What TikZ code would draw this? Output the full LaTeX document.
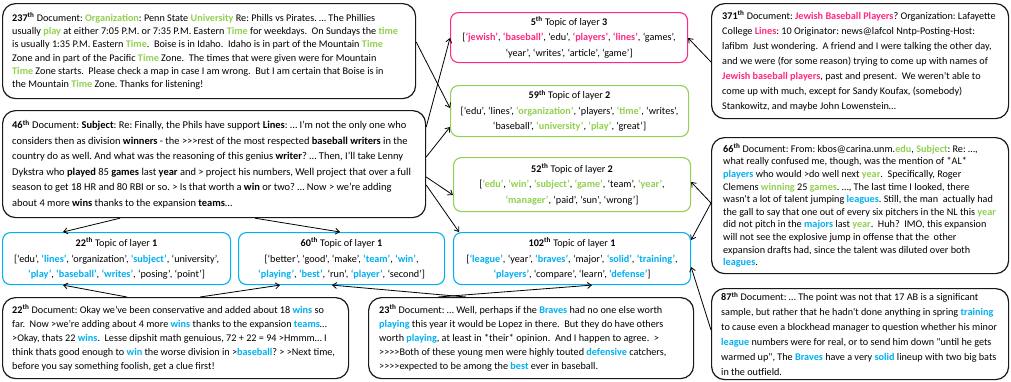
\documentclass[tikz,border=0pt]{standalone}
\usepackage{fontspec}
\setmainfont{Carlito}[Ligatures=TeXOff]
\usetikzlibrary{arrows.meta,calc}
\definecolor{tgreen}{RGB}{146,208,80}
\definecolor{tblue}{RGB}{0,176,240}
\definecolor{tpink}{RGB}{255,40,130}
\newcommand\grn[1]{\textcolor{tgreen}{\textbf{#1}}}
\newcommand\blu[1]{\textcolor{tblue}{\textbf{#1}}}
\newcommand\pnk[1]{\textcolor{tpink}{\textbf{#1}}}
\newcommand\ordth[1]{\textbf{#1\textsuperscript{th}}}
\newcommand\sz[1]{\fontsize{10.2}{#1}\selectfont}
\frenchspacing
\begin{document}
\begin{tikzpicture}[x=1pt,y=-1pt,
  docbox/.style={draw=black!90, line width=1.2pt, rounded corners=13pt, anchor=north west, inner sep=0pt},
  doctext/.style={anchor=west, align=left, inner sep=0pt},
  topicbox/.style={line width=1.1pt, rounded corners=8pt, align=center, inner sep=0pt, anchor=north west, font=\sz{15.5}},
  link/.style={line width=0.8pt, -{Straight Barb[length=4pt,width=6pt]}}]
\fill[white] (0,0) rectangle (1011,381);
\useasboundingbox (0,0) rectangle (1011,381);

% document boxes
\node[docbox, minimum width=413pt, minimum height=95pt]  (d237) at (2,3) {};
\node[docbox, minimum width=423pt, minimum height=107pt] (d46)  at (2,110) {};
\node[docbox, minimum width=346pt, minimum height=81pt]  (d22)  at (2,297) {};
\node[docbox, minimum width=325pt, minimum height=81pt]  (d23)  at (368,297) {};
\node[docbox, minimum width=297pt, minimum height=115pt] (d371) at (711,3) {};
\node[docbox, minimum width=297pt, minimum height=136pt] (d66)  at (711,137) {};
\node[docbox, minimum width=297pt, minimum height=91pt]  (d87)  at (711,288) {};

% document texts
\node[doctext, font=\sz{13.2}] (d237t) at ($(d237.west)+(10,0)$) {%
\ordth{237} Document: \grn{Organization}: Penn State \grn{University} Re: Phills vs Pirates. … The Phillies\\
usually \grn{play} at either 7:05 P.M. or 7:35 P.M. Eastern \grn{Time} for weekdays.\ \ On Sundays the \grn{time}\\
is usually 1:35 P.M. Eastern \grn{Time}.\ \ Boise is in Idaho.\ \ Idaho is in part of the Mountain \grn{Time}\\
Zone and in part of the Pacific \grn{Time} Zone.\ \ The times that were given were for Mountain\\
\grn{Time} Zone starts.\ \ Please check a map in case I am wrong.\ \ But I am certain that Boise is in\\
the Mountain \grn{Time} Zone. Thanks for listening!};

\node[doctext, font=\fontsize{10.45}{15.5}\selectfont] (d46t) at ($(d46.west)+(10,0)$) {%
\ordth{46} Document: \textbf{Subject}: Re: Finally, the Phils have support \textbf{Lines}: … I’m not the only one who\\
considers then as division \textbf{winners} - the >>>rest of the most respected \textbf{baseball writers} in the\\
country do as well. And what was the reasoning of this genius \textbf{writer}? … Then, I’ll take Lenny\\
Dykstra who \textbf{played} 85 \textbf{games} last \textbf{year} and > project his numbers, Well project that over a full\\
season to get 18 HR and 80 RBI or so. > Is that worth a \textbf{win} or two? … Now > we’re adding\\
about 4 more \textbf{wins} thanks to the expansion \textbf{teams}…};

\node[doctext, font=\sz{14.2}] (d22t) at ($(d22.west)+(10,0)$) {%
\ordth{22} Document: Okay we’ve been conservative and added about 18 \blu{wins} so\\
far.\ \ Now >we’re adding about 4 more \blu{wins} thanks to the expansion \blu{teams}…\\
>Okay, thats 22 \blu{wins}.\ \ Lesse dipshit math genuious, 72 + 22 = 94 >Hmmm… I\\
think thats good enough to \blu{win} the worse division in >\blu{baseball}? > >Next time,\\
before you say something foolish, get a clue first!};

\node[doctext, font=\sz{14.2}] (d23t) at ($(d23.west)+(11,0)$) {%
\ordth{23} Document: … Well, perhaps if the \blu{Braves} had no one else worth\\
\blu{playing} this year it would be Lopez in there.\ \ But they do have others\\
worth \blu{playing}, at least in *their* opinion.\ \ And I happen to agree.\ \ >\\
>>>>Both of these young men were highly touted \blu{defensive} catchers,\\
>>>>expected to be among the \blu{best} ever in baseball.};

\node[doctext, font=\sz{15}] (d371t) at ($(d371.west)+(11,0)$) {%
\ordth{371} Document: \pnk{Jewish Baseball Players}? Organization: Lafayette\\
College \pnk{Lines}: 10 Originator: news@lafcol Nntp-Posting-Host:\\
lafibm\ \ Just wondering.\ \ A friend and I were talking the other day,\\
and we were (for some reason) trying to come up with names of\\
\pnk{Jewish baseball players}, past and present.\ \ We weren't able to\\
come up with much, except for Sandy Koufax, (somebody)\\
Stankowitz, and maybe John Lowenstein…};

\node[doctext, font=\sz{12.6}] (d66t) at ($(d66.west)+(12,0)$) {%
\ordth{66} Document: From: kbos@carina.unm.\grn{edu}, \grn{Subject}: Re: …,\\
what really confused me, though, was the mention of *AL*\\
\blu{players} who would >do well next \grn{year}.\ \ Specifically, Roger\\
Clemens \grn{winning} 25 \grn{games}. …, The last time I looked, there\\
wasn't a lot of talent jumping \blu{leagues}. Still, the man\ \ actually had\\
the gall to say that one out of every six pitchers in the NL this \grn{year}\\
did not pitch in the \blu{majors} last \grn{year}.\ \ Huh?\ \ IMO, this expansion\\
will not see the explosive jump in offense that the\ \ other\\
expansion drafts had, since the talent was diluted over both\\
\blu{leagues}.};

\node[doctext, font=\sz{15}] (d87t) at ($(d87.west)+(10,0)$) {%
\ordth{87} Document: … The point was not that 17 AB is a significant\\
sample, but rather that he hadn't done anything in spring \blu{training}\\
to cause even a blockhead manager to question whether his minor\\
\blu{league} numbers were for real, or to send him down "until he gets\\
warmed up", The \blu{Braves} have a very \blu{solid} lineup with two big bats\\
in the outfield.};

% topic boxes
\node[topicbox, draw=tpink, minimum width=237pt, minimum height=50pt] (t5) at (450,12) {%
\ordth{5} Topic of layer \textbf{3}\\
{[}\pnk{‘jewish’}, \pnk{‘baseball’}, ‘edu’, \pnk{‘players’}, \pnk{‘lines’}, ‘games’,\\
‘year’, ‘writes’, ‘article’, ‘game’]};

\node[topicbox, draw=tgreen, minimum width=238pt, minimum height=51pt] (t59) at (450,85) {%
\ordth{59} Topic of layer \textbf{2}\\
{[}‘edu’, ‘lines’, \grn{‘organization’}, ‘players’, \grn{‘time’}, ‘writes’,\\
‘baseball’, \grn{‘university’}, \grn{‘play’}, ‘great’]};

\node[topicbox, draw=tgreen, minimum width=237pt, minimum height=54pt] (t52) at (453,157) {%
\ordth{52} Topic of layer \textbf{2}\\
{[}\grn{‘edu’}, \grn{‘win’}, \grn{‘subject’}, \grn{‘game’}, ‘team’, \grn{‘year’},\\
\grn{‘manager’}, ‘paid’, ‘sun’, ‘wrong’]};

\node[topicbox, draw=tblue, minimum width=237pt, minimum height=52pt] (t102) at (453,232) {%
\ordth{102} Topic of layer \textbf{1}\\
{[}\blu{‘league’}, ‘year’, \blu{‘braves’}, ‘major’, \blu{‘solid’}, \blu{‘training’},\\
\blu{‘players’}, ‘compare’, ‘learn’, \blu{‘defense’}]};

\node[topicbox, draw=tblue, minimum width=228pt, minimum height=52pt] (t22) at (2,232) {%
\ordth{22} Topic of layer \textbf{1}\\
{[}‘edu’, \blu{‘lines’}, ‘organization’, \blu{‘subject’}, ‘university’,\\
\blu{‘play’}, \blu{‘baseball’}, \blu{‘writes’}, ‘posing’, ‘point’]};

\node[topicbox, draw=tblue, minimum width=206pt, minimum height=52pt] (t60) at (238,232) {%
\ordth{60} Topic of layer \textbf{1}\\
{[}‘better’, ‘good’, ‘make’, \blu{‘team’}, \blu{‘win’},\\
\blu{‘playing’}, \blu{‘best’}, ‘run’, \blu{‘player’}, ‘second’]};

% connectors
\draw[link] (d237.east |- 0,42) -- (t59.west |- 0,108);
\draw[link] (d46.east |- 0,127) -- (t5.west |- 0,38);
\draw[link] (d46.east |- 0,157) -- (t59.west |- 0,127);
\draw[link] (d46.east |- 0,177) -- (t52.west |- 0,195);
\draw[link] (d46.east |- 0,185) -- (t102.north -| 459,0);
\draw[link] (d46.south -| 120,0) -- (t22.north -| 63,0);
\draw[link] (d46.south -| 255,0) -- (t60.north -| 340,0);
\draw[link] (d22.north -| 127,0) -- (t22.south -| 63,0);
\draw[link] (d22.north -| 200,0) -- (t60.south -| 280,0);
\draw[link] (d23.north -| 466,0) -- (t60.south -| 332,0);
\draw[link] (d23.north -| 438,0) -- (t102.south -| 592,0);
\draw[link] (d371.west |- 0,62) -- (t5.east |- 0,38);
\draw[link] (d66.west |- 0,203) -- (t52.east |- 0,182);
\draw[link] (d66.west |- 0,203) -- (t102.east |- 0,240);
\draw[link] (d87.west |- 0,330) -- (t102.east |- 0,267);
\end{tikzpicture}
\end{document}
